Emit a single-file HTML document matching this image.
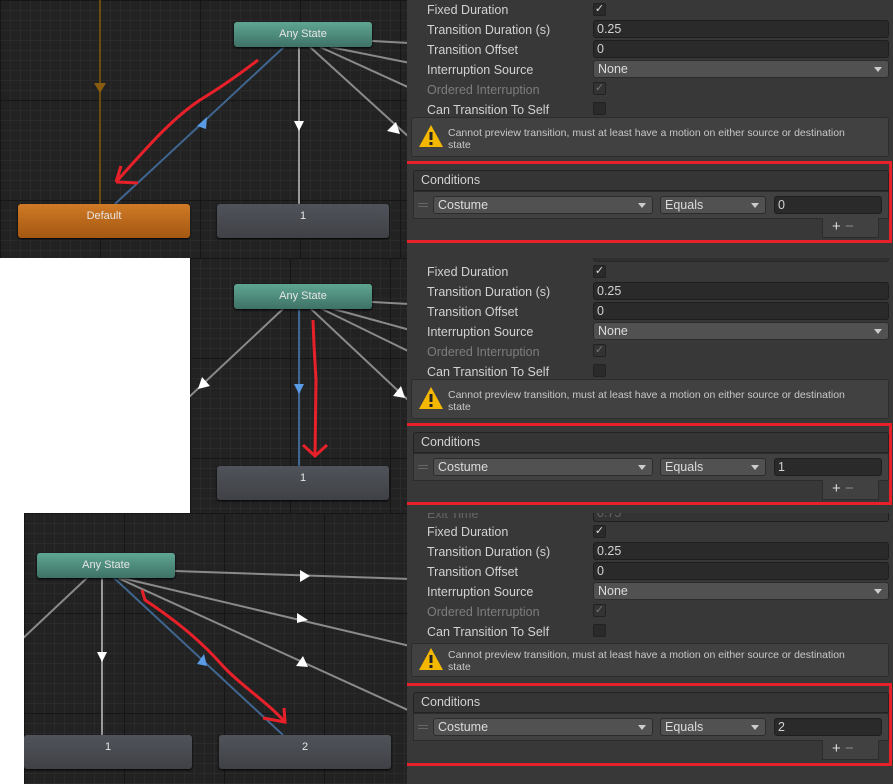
<!DOCTYPE html>
<html><head><meta charset="utf-8"><style>
*{margin:0;padding:0;box-sizing:border-box}
body{width:893px;height:784px;position:relative;overflow:hidden;background:#fff;font-family:"Liberation Sans",sans-serif}
.g{position:absolute;overflow:hidden;background-color:#222;
background-image:linear-gradient(#161616 1px,transparent 1px),linear-gradient(90deg,#161616 1px,transparent 1px),linear-gradient(#2a2a2a 1px,transparent 1px),linear-gradient(90deg,#2a2a2a 1px,transparent 1px);
background-size:100px 100px,100px 100px,10px 10px,10px 10px}
.g svg{position:absolute;left:0;top:0}
.ins{position:absolute;left:407px;width:486px;background:#383838;overflow:hidden}
.ins div{position:absolute}
.lb{left:20px;font-size:12.5px;color:#d2d2d2;line-height:14px}
.cb{left:186px;width:13px;height:13px;background:#2a2a2a;border:1px solid #222;border-radius:2px;color:#ddd;font-size:11px;line-height:11px;text-align:center}
.fd{left:186px;width:296px;height:18px;background:#2a2a2a;border:1px solid #1e1e1e;border-radius:3px;color:#d2d2d2;font-size:12.5px;line-height:16px;padding-left:3px}
.dd{background:#515151;border:1px solid #2c2c2c;border-radius:3px;color:#dcdcdc;font-size:12.5px;line-height:16px;padding-left:4px;height:18px}
.dd:after{content:"";position:absolute;right:6px;top:6px;border-left:4px solid transparent;border-right:4px solid transparent;border-top:5px solid #ccc}
.wt{left:41px;width:405px;font-size:10.5px;color:#c8c8c8;line-height:12px}
.node{position:absolute;border-radius:3px;color:#e6e6e6;font-size:11px;text-align:center;box-shadow:0 1px 2px #000}
.any{background:linear-gradient(#5fa592,#3e7266);height:25px;line-height:25px;width:138px}
.st{background:linear-gradient(#50535a,#3f4146);height:34px;line-height:24px;width:172px}
</style></head><body>

<div class="g" style="left:0;top:0;width:407px;height:258px">
<svg width="407" height="258">
<line x1="100" y1="0" x2="100" y2="204" stroke="#6a4a10" stroke-width="2"/>
<polygon points="94,83 106,83 100,93" fill="#8a5c10"/>
<line x1="284" y1="47" x2="115" y2="204" stroke="#3f6690" stroke-width="2"/>
<polygon points="197,126 207,117 206,129" fill="#5a9be6"/>
<line x1="299" y1="47" x2="299" y2="204" stroke="#9a9a9a" stroke-width="2"/>
<polygon points="294,121 304,121 299,131" fill="#fff"/>
<line x1="310" y1="47" x2="410" y2="138" stroke="#8a8a8a" stroke-width="2"/>
<polygon points="387,131 396,122 400,134" fill="#fff"/>
<line x1="320" y1="47" x2="410" y2="88" stroke="#8a8a8a" stroke-width="2"/>
<line x1="330" y1="47" x2="410" y2="63" stroke="#8a8a8a" stroke-width="2"/>
<line x1="372" y1="41" x2="410" y2="43" stroke="#8a8a8a" stroke-width="2"/>
<path d="M258,60 C245,70 225,85 200,100 C170,120 145,150 116,182 M116,182 L121,166 M116,182 L138,183" stroke="#e8202a" stroke-width="3" fill="none"/>
</svg>
<div class="node any" style="left:234px;top:22px">Any State</div>
<div class="node st" style="left:18px;top:204px;background:linear-gradient(#cf7a25,#a45812)">Default</div>
<div class="node st" style="left:217px;top:204px">1</div>
</div>

<div class="g" style="left:190px;top:258px;width:217px;height:255px">
<svg width="217" height="255" viewBox="190 258 217 255">
<line x1="284" y1="308" x2="188" y2="398" stroke="#8a8a8a" stroke-width="2"/>
<polygon points="198,389 202,377 210,386" fill="#fff"/>
<line x1="299" y1="308" x2="299" y2="466" stroke="#3f6690" stroke-width="2"/>
<polygon points="294,384 304,384 299,394" fill="#5a9be6"/>
<line x1="310" y1="308" x2="410" y2="402" stroke="#8a8a8a" stroke-width="2"/>
<polygon points="393,396 401,386 405,398" fill="#fff"/>
<line x1="320" y1="308" x2="410" y2="352" stroke="#8a8a8a" stroke-width="2"/>
<line x1="330" y1="308" x2="410" y2="330" stroke="#8a8a8a" stroke-width="2"/>
<line x1="372" y1="302" x2="410" y2="304" stroke="#8a8a8a" stroke-width="2"/>
<path d="M313,320 L314,345 L316,380 L315,456 M303,445 L315,456 L327,445" stroke="#e8202a" stroke-width="3" fill="none"/>
</svg>
<div class="node any" style="left:44px;top:26px">Any State</div>
<div class="node st" style="left:27px;top:208px">1</div>
</div>

<div class="g" style="left:24px;top:513px;width:383px;height:271px">
<svg width="383" height="271" viewBox="24 513 383 271">
<line x1="88" y1="577" x2="20" y2="641" stroke="#8a8a8a" stroke-width="2"/>
<line x1="102" y1="577" x2="102" y2="735" stroke="#9a9a9a" stroke-width="2"/>
<polygon points="97,652 107,652 102,662" fill="#fff"/>
<line x1="113" y1="577" x2="283" y2="735" stroke="#3f6690" stroke-width="2"/>
<polygon points="197,664 204,654 207,666" fill="#5a9be6"/>
<line x1="175" y1="571" x2="410" y2="579" stroke="#8a8a8a" stroke-width="2"/>
<polygon points="300,570 310,576 300,582" fill="#fff"/>
<line x1="122" y1="578" x2="410" y2="646" stroke="#8a8a8a" stroke-width="2"/>
<polygon points="297,613 308,620 297,623" fill="#fff"/>
<line x1="118" y1="578" x2="410" y2="711" stroke="#8a8a8a" stroke-width="2"/>
<polygon points="296,666 303,656 308,667" fill="#fff"/>
<path d="M142,590 L145,600 C175,620 200,640 222,665 C240,685 265,700 285,722 M284,708 L285,722 L263,718" stroke="#e8202a" stroke-width="3" fill="none"/>
</svg>
<div class="node any" style="left:13px;top:40px">Any State</div>
<div class="node st" style="left:0px;top:222px;width:168px">1</div>
<div class="node st" style="left:195px;top:222px">2</div>
</div>

<div class="ins" style="top:0;height:258px">
<div class="lb" style="top:3px">Fixed Duration</div><div class="cb" style="top:3px">✓</div>
<div class="lb" style="top:23px">Transition Duration (s)</div><div class="fd" style="top:20px">0.25</div>
<div class="lb" style="top:43px">Transition Offset</div><div class="fd" style="top:40px">0</div>
<div class="lb" style="top:63px">Interruption Source</div><div class="dd" style="top:60px;left:186px;width:296px">None</div>
<div class="lb" style="top:83px;color:#7d7d7d">Ordered Interruption</div><div class="cb" style="top:82px;color:#777;background:#333">✓</div>
<div class="lb" style="top:103px">Can Transition To Self</div><div class="cb" style="top:102px"></div>
<div style="left:4px;top:117px;width:478px;height:40px;background:#414141;border:1px solid #2c2c2c;border-radius:3px"></div>
<svg style="position:absolute;left:11px;top:124px" width="26" height="24"><polygon points="13,1 25,23 1,23" fill="#f5b800"/><rect x="11.5" y="8" width="3" height="8" fill="#222"/><rect x="11.5" y="18" width="3" height="3" fill="#222"/></svg>
<div class="wt" style="top:127px">Cannot preview transition, must at least have a motion on either source or destination state</div>
<div style="left:-3px;top:161px;width:488px;height:82px;border:3px solid #e8202a"></div>
<div style="left:6px;top:170px;width:476px;height:21px;background:#353535;border:1px solid #232323;border-radius:3px 3px 0 0;font-size:12.5px;color:#d2d2d2;line-height:19px;padding-left:7px">Conditions</div>
<div style="left:6px;top:191px;width:476px;height:28px;background:#414141;border:1px solid #2c2c2c"></div>
<div style="left:11px;top:203px;width:10px;height:4px;border-top:1px solid #666;border-bottom:1px solid #666"></div>
<div class="dd" style="left:26px;top:196px;width:220px">Costume</div>
<div class="dd" style="left:253px;top:196px;width:106px">Equals</div>
<div class="fd" style="left:367px;top:196px;width:108px">0</div>
<div style="left:415px;top:218px;width:57px;height:20px;background:#414141;border:1px solid #2c2c2c;border-top:none;color:#ddd;font-size:15px;line-height:18px;padding-left:9px">+ <span style="color:#888">−</span></div>
</div>

<div class="ins" style="top:258px;height:255px">
<div class="fd" style="top:-14px;opacity:.6"></div>
<div class="lb" style="top:7px">Fixed Duration</div><div class="cb" style="top:7px">✓</div>
<div class="lb" style="top:27px">Transition Duration (s)</div><div class="fd" style="top:24px">0.25</div>
<div class="lb" style="top:47px">Transition Offset</div><div class="fd" style="top:44px">0</div>
<div class="lb" style="top:67px">Interruption Source</div><div class="dd" style="top:64px;left:186px;width:296px">None</div>
<div class="lb" style="top:87px;color:#7d7d7d">Ordered Interruption</div><div class="cb" style="top:86px;color:#777;background:#333">✓</div>
<div class="lb" style="top:107px">Can Transition To Self</div><div class="cb" style="top:106px"></div>
<div style="left:4px;top:121px;width:478px;height:40px;background:#414141;border:1px solid #2c2c2c;border-radius:3px"></div>
<svg style="position:absolute;left:11px;top:128px" width="26" height="24"><polygon points="13,1 25,23 1,23" fill="#f5b800"/><rect x="11.5" y="8" width="3" height="8" fill="#222"/><rect x="11.5" y="18" width="3" height="3" fill="#222"/></svg>
<div class="wt" style="top:131px">Cannot preview transition, must at least have a motion on either source or destination state</div>
<div style="left:-3px;top:165px;width:488px;height:82px;border:3px solid #e8202a"></div>
<div style="left:6px;top:174px;width:476px;height:21px;background:#353535;border:1px solid #232323;border-radius:3px 3px 0 0;font-size:12.5px;color:#d2d2d2;line-height:19px;padding-left:7px">Conditions</div>
<div style="left:6px;top:195px;width:476px;height:28px;background:#414141;border:1px solid #2c2c2c"></div>
<div style="left:11px;top:207px;width:10px;height:4px;border-top:1px solid #666;border-bottom:1px solid #666"></div>
<div class="dd" style="left:26px;top:200px;width:220px">Costume</div>
<div class="dd" style="left:253px;top:200px;width:106px">Equals</div>
<div class="fd" style="left:367px;top:200px;width:108px">1</div>
<div style="left:415px;top:222px;width:57px;height:20px;background:#414141;border:1px solid #2c2c2c;border-top:none;color:#ddd;font-size:15px;line-height:18px;padding-left:9px">+ <span style="color:#888">−</span></div>
</div>

<div class="ins" style="top:513px;height:271px">
<div class="lb" style="top:-6px;color:#666">Exit Time</div><div class="fd" style="top:-9px;color:#666;background:#333">0.75</div>
<div class="lb" style="top:12px">Fixed Duration</div><div class="cb" style="top:12px">✓</div>
<div class="lb" style="top:32px">Transition Duration (s)</div><div class="fd" style="top:29px">0.25</div>
<div class="lb" style="top:52px">Transition Offset</div><div class="fd" style="top:49px">0</div>
<div class="lb" style="top:72px">Interruption Source</div><div class="dd" style="top:69px;left:186px;width:296px">None</div>
<div class="lb" style="top:92px;color:#7d7d7d">Ordered Interruption</div><div class="cb" style="top:91px;color:#777;background:#333">✓</div>
<div class="lb" style="top:112px">Can Transition To Self</div><div class="cb" style="top:111px"></div>
<div style="left:4px;top:130px;width:478px;height:34px;background:#414141;border:1px solid #2c2c2c;border-radius:3px"></div>
<svg style="position:absolute;left:11px;top:134px" width="26" height="24"><polygon points="13,1 25,23 1,23" fill="#f5b800"/><rect x="11.5" y="8" width="3" height="8" fill="#222"/><rect x="11.5" y="18" width="3" height="3" fill="#222"/></svg>
<div class="wt" style="top:136px">Cannot preview transition, must at least have a motion on either source or destination state</div>
<div style="left:-3px;top:170px;width:488px;height:83px;border:3px solid #e8202a"></div>
<div style="left:6px;top:179px;width:476px;height:21px;background:#353535;border:1px solid #232323;border-radius:3px 3px 0 0;font-size:12.5px;color:#d2d2d2;line-height:19px;padding-left:7px">Conditions</div>
<div style="left:6px;top:200px;width:476px;height:28px;background:#414141;border:1px solid #2c2c2c"></div>
<div style="left:11px;top:212px;width:10px;height:4px;border-top:1px solid #666;border-bottom:1px solid #666"></div>
<div class="dd" style="left:26px;top:205px;width:220px">Costume</div>
<div class="dd" style="left:253px;top:205px;width:106px">Equals</div>
<div class="fd" style="left:367px;top:205px;width:108px">2</div>
<div style="left:415px;top:227px;width:57px;height:20px;background:#414141;border:1px solid #2c2c2c;border-top:none;color:#ddd;font-size:15px;line-height:18px;padding-left:9px">+ <span style="color:#888">−</span></div>
</div>

</body></html>
